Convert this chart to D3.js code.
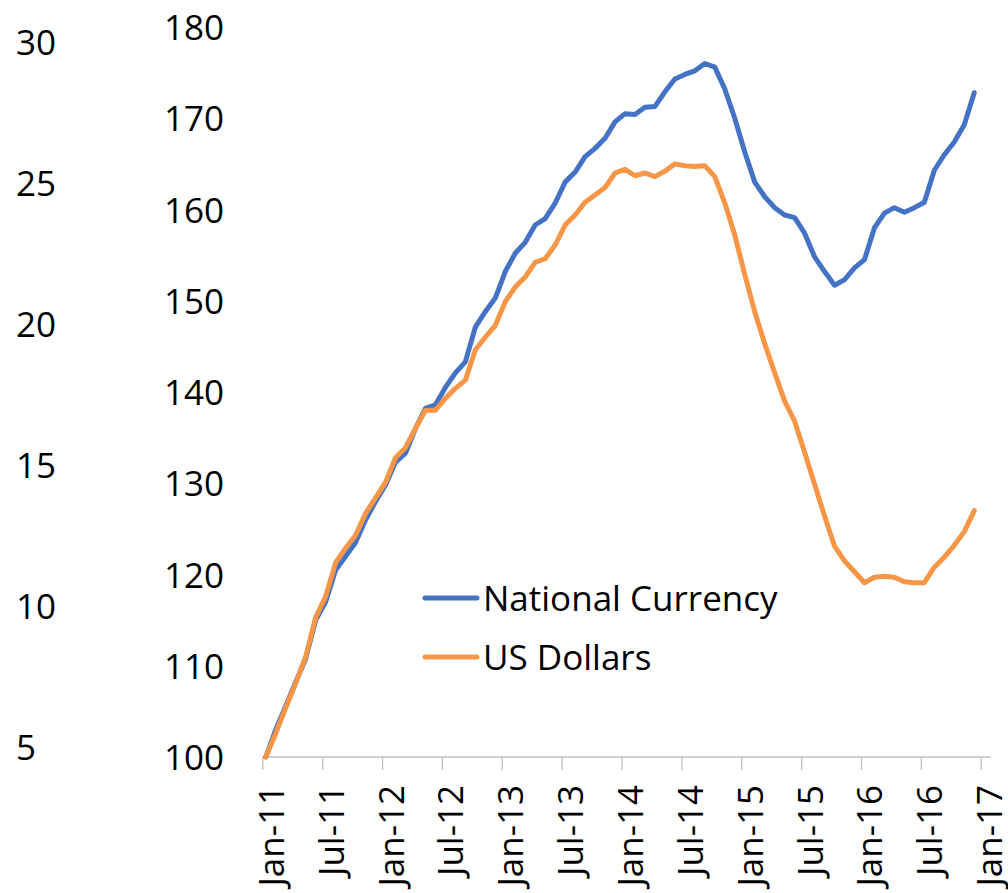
<!DOCTYPE html>
<html>
<head>
<meta charset="utf-8">
<script src="https://cdn.jsdelivr.net/npm/d3@7/dist/d3.min.js"></script>
<style>
  html, body { margin: 0; padding: 0; background: #fff; }
  svg { display: block; }
  text { font-family: "Open Sans", "Noto Sans", sans-serif; fill: #000; }
</style>
</head>
<body>
<svg id="chart" width="1008" height="893"></svg>
<script>
// ---- data ----
const tickLabels = ["Jan-11","Jul-11","Jan-12","Jul-12","Jan-13","Jul-13","Jan-14","Jul-14","Jan-15","Jul-15","Jan-16","Jul-16","Jan-17"];
const leftTicks = [5, 10, 15, 20, 25, 30];
const rightTicks = [100, 110, 120, 130, 140, 150, 160, 170, 180];
const seriesNames = ["National Currency", "US Dollars"];
const nationalCurrency = [
  100.0, 103.0, 105.6, 108.2, 110.8, 115.0, 117.0, 120.5, 122.0, 123.5, 126.0, 128.0,
  129.8, 132.3, 133.3, 136.0, 138.2, 138.6, 140.5, 142.1, 143.3, 147.1, 148.8, 150.3,
  153.2, 155.2, 156.4, 158.3, 159.0, 160.7, 163.0, 164.1, 165.8, 166.7, 167.8, 169.6,
  170.5, 170.4, 171.2, 171.3, 172.9, 174.3, 174.8, 175.2, 176.0, 175.6, 173.2, 170.0,
  166.3, 163.0, 161.4, 160.2, 159.4, 159.1, 157.4, 154.8, 153.2, 151.7, 152.3, 153.6,
  154.5, 158.0, 159.6, 160.2, 159.7, 160.2, 160.8, 164.3, 166.0, 167.4, 169.3, 172.8
];
const usDollars = [
  100.0, 102.6, 105.4, 108.1, 111.0, 115.3, 117.6, 121.3, 122.9, 124.3, 126.7, 128.4,
  130.1, 132.8, 133.9, 136.0, 138.0, 138.0, 139.3, 140.4, 141.3, 144.6, 146.0, 147.3,
  149.9, 151.5, 152.6, 154.2, 154.6, 156.1, 158.3, 159.4, 160.8, 161.6, 162.4, 164.0,
  164.4, 163.7, 164.0, 163.6, 164.2, 165.0, 164.8, 164.7, 164.8, 163.6, 160.7, 157.2,
  152.9, 148.8, 145.3, 142.1, 139.0, 136.8, 133.4, 129.9, 126.4, 123.1, 121.5, 120.3,
  119.1, 119.7, 119.8, 119.7, 119.2, 119.1, 119.1, 120.8, 121.9, 123.2, 124.7, 127.0
];
const colors = ["#4472C4", "#F79646"];

// ---- scales ----
const svg = d3.select("#chart");
const x = d3.scaleLinear().domain([0, 73]).range([262.3, 990.7]);
const y = d3.scaleLinear().domain([100, 180]).range([757, 27]);
const yLeft = d3.scaleLinear().domain([5, 30]).range([747, 42]);
const FS = 35;

// left (secondary, empty) axis labels
svg.append("g").selectAll("text").data(leftTicks).join("text")
  .attr("x", 16).attr("y", d => yLeft(d)).attr("dy", "0.36em")
  .attr("text-anchor", "start").style("font-size", FS + "px")
  .text(d => d);

// right value axis labels
const yAxis = d3.axisLeft(y).tickValues(rightTicks).tickSize(0).tickPadding(0);
const gy = svg.append("g").attr("transform", "translate(224,0)").call(yAxis);
gy.select(".domain").remove();
gy.selectAll("text").style("font-size", FS + "px").attr("fill", "#000")
  .attr("font-family", null).attr("dy", "0.36em");

// x axis
const tickPos = tickLabels.map((d, i) => i * 6);
const xAxis = d3.axisBottom(x).tickValues(tickPos).tickSize(13).tickFormat((d, i) => tickLabels[i]);
const gx = svg.append("g").attr("transform", "translate(0,757)").call(xAxis);
gx.select(".domain").attr("stroke", "#BFBFBF").attr("stroke-width", 1.3)
  .attr("d", `M${x(0)},0H${x(73)}`);
gx.selectAll(".tick line").attr("stroke", "#BFBFBF").attr("stroke-width", 1.3);
gx.selectAll(".tick text")
  .attr("font-family", null)
  .style("font-size", FS + "px").attr("fill", "#000")
  .attr("text-anchor", "end")
  .attr("transform", "translate(0,28) rotate(-90)")
  .attr("x", 0).attr("y", 21).attr("dy", 0);

// lines
const line = d3.line().x((d, i) => x(i + 0.35)).y(d => y(d));
[nationalCurrency, usDollars].forEach((s, k) => {
  svg.append("path").datum(s)
    .attr("fill", "none").attr("stroke", colors[k]).attr("stroke-width", 5)
    .attr("stroke-linejoin", "round").attr("stroke-linecap", "round")
    .attr("d", line);
});

// legend
const legend = svg.append("g");
seriesNames.forEach((name, k) => {
  const ly = 598 + k * 59;
  legend.append("line").attr("x1", 425).attr("x2", 477).attr("y1", ly).attr("y2", ly)
    .attr("stroke", colors[k]).attr("stroke-width", 5).attr("stroke-linecap", "round");
  legend.append("text").attr("x", 483).attr("y", ly).attr("dy", "0.36em")
    .style("font-size", FS + "px").text(name);
});
</script>
</body>
</html>
